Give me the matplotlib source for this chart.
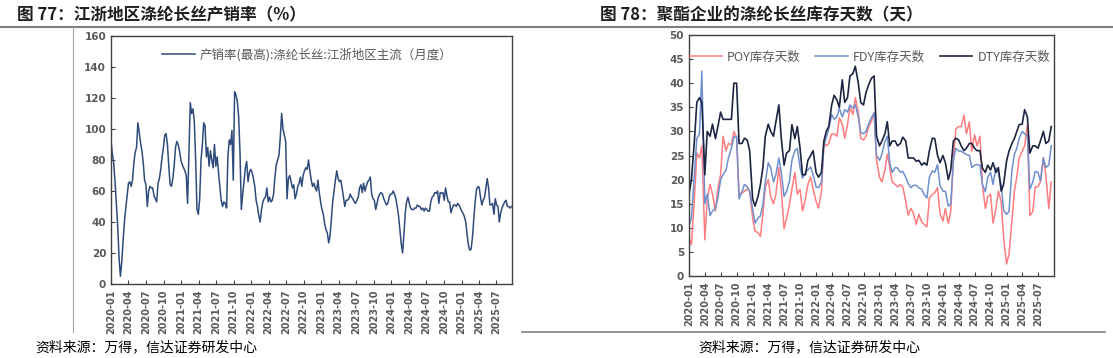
import matplotlib
matplotlib.use("Agg")
import matplotlib.pyplot as plt
import matplotlib.dates as mdates
from matplotlib.lines import Line2D
import pandas as pd

plt.rcParams['font.family'] = ['Noto Sans CJK SC', 'DejaVu Sans']

# ---------------- data ----------------
title_left = "图 77：江浙地区涤纶长丝产销率（%）"
title_right = "图 78：聚酯企业的涤纶长丝库存天数（天）"
source_text = "资料来源：万得，信达证券研发中心"
label_rate = "产销率(最高):涤纶长丝:江浙地区主流（月度）"
label_poy = "POY库存天数"
label_fdy = "FDY库存天数"
label_dty = "DTY库存天数"

# weekly observations from 2020-01-01 (13 per quarter row)
rate = [92, 84, 78, 66, 52, 37, 17, 5, 14, 28, 40, 49, 57,
        65, 66, 63, 67, 78, 85, 88, 104, 98, 91, 86, 78, 67,
        64, 50, 60, 63, 62, 62, 57, 55, 53, 65, 68, 74, 82,
        88, 96, 97, 90, 76, 64, 63, 68, 76, 88, 92, 90, 86,
        80, 77, 75, 73, 70, 52, 85, 117, 110, 113, 105, 80, 48,
        45, 55, 80, 90, 104, 102, 82, 88, 76, 86, 80, 75, 90,
        76, 82, 72, 63, 54, 50, 53, 52, 49, 82, 93, 90, 99,
        67, 124, 122, 118, 108, 85, 48, 58, 66, 75, 79, 66, 72,
        74, 72, 68, 63, 54, 50, 44, 40, 48, 53, 55, 56, 62,
        53, 56, 53, 54, 58, 69, 77, 80, 83, 95, 110, 100, 96,
        92, 55, 68, 70, 66, 62, 64, 55, 58, 63, 65, 69, 63,
        70, 73, 75, 74, 80, 73, 67, 63, 65, 62, 60, 67, 59,
        53, 48, 45, 39, 35, 33, 26.5, 31, 42, 53, 60, 67, 73,
        68, 66, 67, 62, 56, 50, 54, 54, 55, 58, 56, 55, 53,
        52, 54, 56, 62, 64, 59, 65, 60, 63, 66, 67, 69, 58,
        55, 54, 48, 52, 56, 58, 59, 58, 55, 53, 51, 52, 56,
        58, 58, 60, 58, 55, 50, 44, 35, 26, 20, 32, 46, 53,
        56, 52, 49, 48, 48, 49, 49, 51, 50, 50, 48, 49, 47,
        49, 48, 47, 47, 53, 56, 57, 59, 58.5, 60, 52, 59, 58.5,
        59, 54, 62, 57, 53, 53, 46, 49, 51, 51, 50, 52, 51,
        49, 47, 45.6, 43.5, 40, 32, 25, 21.8, 22.5, 30, 42, 53, 61,
        62.8, 62.5, 56, 51, 54, 56, 62, 68, 62, 51, 51, 52, 45,
        55, 51, 50, 40, 46, 49, 51, 53, 54, 50, 50, 49, 50]

# semi-monthly observations, 2020-01-01 ... 2025-09-16
poy = [8, 6.5, 16, 25.5, 24.5, 27,
       7.5, 16, 19, 17, 13.5, 18.3,
       21, 29, 26, 27.5, 27.2, 30,
       28.5, 17, 17.2, 17.6, 18, 17.6,
       12, 9.3, 9, 8.2, 12.8, 18.5,
       20, 16.5, 15, 16.9, 22.5, 18,
       9.8, 12, 14.8, 18, 21.5, 17,
       18, 13.5, 16, 19, 20.5, 18,
       15.5, 14.1, 17.5, 27.5, 27, 27.5,
       29.5, 29.5, 29, 32.8, 31.5, 28.6,
       31.4, 35, 33.5, 37, 34, 28.6,
       28.2, 29, 31, 32, 34, 24,
       20.5, 19.5, 22, 25.3, 22.5, 19.5,
       19, 18.5, 19, 18.5, 15.5, 12.6,
       14, 13, 10.7, 12.8, 11.2, 10.7,
       10.2, 16.2, 16.9, 17.3, 18.3, 13,
       11.4, 14, 10.9, 13.4, 24, 30.5,
       31, 31, 33.4, 29.5, 32, 25.9,
       29.3, 27, 29, 19, 14, 16.5,
       17, 11, 14, 17.6, 15.5, 8,
       2.5, 4.5, 11.5, 17.6, 20.5, 24.5,
       25.9, 27, 31.4, 12.5, 13.4, 18.5,
       18.5, 19.5, 24.5, 21, 14, 19.5]

fdy = [10.5, 12, 21, 28.5, 29.5, 42.5,
       15, 17, 12.5, 13.5, 14, 16.2,
       20, 21, 22, 24.5, 26.5, 28.8,
       29, 16, 17.5, 19, 18.5, 17.6,
       14, 11, 12, 12.5, 14.8, 19.5,
       23.5, 22.5, 19.5, 21, 24.5, 21.5,
       16.5, 17.5, 19.7, 24, 26, 26.5,
       22.5, 20.3, 21.5, 22, 22.6, 21,
       18.5, 18.3, 19.5, 27, 28.8, 30.5,
       33.5, 32.5, 33, 34.8, 33, 34.5,
       34, 35.5, 34.8, 35.5, 33, 29.8,
       29.5, 30, 31.7, 32.8, 33.8, 25,
       24, 25.3, 27.9, 29, 23.5, 21.5,
       22.5, 22.4, 21.5, 21.7, 20.5, 19.2,
       18.3, 18.8, 18.8, 18.3, 18, 16.9,
       16.2, 20.5, 21.8, 21.5, 23.1, 18.8,
       17.6, 17.6, 14.5, 15, 24, 26.5,
       25.9, 25.9, 25.5, 25.2, 25, 22.5,
       23, 23.1, 23, 19, 17.5, 20.5,
       21.5, 19, 22.4, 21.5, 19, 13.6,
       12.8, 13.4, 22, 25.2, 26.5, 28.6,
       30, 29.5, 29, 18, 19.5, 21.7,
       21.5, 19.7, 24.5, 22.5, 23, 27]

dty = [17, 20, 28, 36, 37, 36,
       21, 30, 29, 31.5, 28.5, 31,
       34, 32.5, 32.5, 32.5, 32.5, 40,
       40, 27.5, 27.5, 28.6, 28.2, 26,
       16, 14.5, 16.5, 19, 22.4, 29,
       31.5, 30, 29, 32, 35.5, 28.5,
       23, 25.5, 26, 31.4, 28.5, 31,
       26.5, 21, 21, 24, 25, 26,
       21.5, 20.5, 21.5, 28, 30, 31,
       35.5, 37.5, 36.5, 35, 40.7, 36,
       37, 41.5, 42, 43.5, 40, 36,
       35.5, 38, 39.8, 41, 41.5, 29,
       27, 28, 29.5, 32, 27, 28,
       28, 27, 27.5, 28.8, 28, 24.5,
       24.5, 24.5, 23.8, 24, 23, 23.5,
       23, 26, 28.6, 28.5, 25, 23.5,
       25, 23.5, 20, 22, 28, 28.6,
       28.2, 27, 26, 26.5, 27.5, 27.5,
       26.5, 26, 26, 22.4, 21.5, 23,
       22, 23.5, 21.5, 22.5, 17.6, 19,
       23.8, 25.9, 27.5, 28.5, 30, 31.4,
       31.5, 34.5, 33, 25.5, 27, 27,
       26.5, 28, 30, 27.5, 28, 31]

dates_rate = pd.date_range("2020-01-01", periods=len(rate), freq="7D")
dates_inv = pd.date_range("2020-01-01", periods=len(poy), freq="SMS")
tick_dates = pd.date_range("2020-01-01", "2025-07-01", freq="QS")

# ---------------- figure ----------------
W, H = 1113, 358
fig = plt.figure(figsize=(W / 100, H / 100), dpi=100)

TICK_C = "#595959"
SPINE_C = "#404040"

def fx(px):
    return px / W

def fy(py):
    return 1 - py / H

def style_axes(ax):
    for s in ax.spines.values():
        s.set_color(SPINE_C)
        s.set_linewidth(1.0)
    ax.tick_params(axis="both", direction="in", length=3, width=0.8,
                   colors=SPINE_C, labelcolor=TICK_C, labelsize=7.5)
    ax.tick_params(axis="x", labelsize=7, pad=4)
    ax.set_xticks(tick_dates)
    ax.xaxis.set_major_formatter(mdates.DateFormatter("%Y-%m"))
    for lab in ax.get_xticklabels():
        lab.set_rotation(90)
        lab.set_fontfamily("DejaVu Sans")
        lab.set_fontweight("bold")
    for lab in ax.get_yticklabels():
        lab.set_fontfamily("DejaVu Sans")
        lab.set_fontweight("bold")

# left axes
axL = fig.add_axes([fx(111), fy(284), fx(512 - 111), (284 - 36) / H])
axL.plot(dates_rate, rate, color="#2F4B7C", lw=1.1, label=label_rate)
axL.set_ylim(0, 160)
axL.set_yticks(range(0, 161, 20))
axL.set_xlim(pd.Timestamp("2020-01-01"), pd.Timestamp("2025-09-20"))
style_axes(axL)
axL.legend(loc="center", bbox_to_anchor=(0.49, 0.923), frameon=False,
           fontsize=9, handlelength=2.6, handletextpad=0.4, labelcolor=TICK_C)

# right axes
axR = fig.add_axes([fx(689), fy(276), fx(1054 - 689), (276 - 35) / H])
axR.plot(dates_inv, poy, color="#FF7C80", lw=1.1, label=label_poy)
axR.plot(dates_inv, fdy, color="#6F8FCF", lw=1.1, label=label_fdy)
axR.plot(dates_inv, dty, color="#1C2541", lw=1.2, label=label_dty)
axR.set_ylim(0, 50)
axR.set_yticks(range(0, 51, 5))
axR.set_xlim(pd.Timestamp("2020-01-01"), pd.Timestamp("2025-10-01"))
style_axes(axR)
axR.legend(loc="center", bbox_to_anchor=(0.495, 0.909), frameon=False, ncol=3,
           fontsize=9, handlelength=2.6, handletextpad=0.4, columnspacing=1.2,
           labelcolor=TICK_C)

# titles
fig.text(fx(17), fy(15), title_left, fontsize=12, fontweight="bold",
         color="#1F1F1F", va="center", ha="left")
fig.text(fx(600), fy(15), title_right, fontsize=12, fontweight="bold",
         color="#1F1F1F", va="center", ha="left")

# decorative rules
fig.add_artist(Line2D([0, 1], [fy(27), fy(27)], color="#7F7F7F", lw=1.5))
fig.add_artist(Line2D([fx(73), fx(73)], [fy(27), fy(332)], color="#A6A6A6", lw=0.8))
fig.add_artist(Line2D([fx(522), fx(1105)], [fy(332), fy(332)], color="#7F7F7F", lw=1.2))

# sources
fig.text(fx(35), fy(347), source_text, fontsize=10, color="#000000",
         va="center", ha="left", style="italic")
fig.text(fx(698), fy(347), source_text, fontsize=10, color="#000000",
         va="center", ha="left", style="italic")

fig.savefig("out.png", dpi=100)
